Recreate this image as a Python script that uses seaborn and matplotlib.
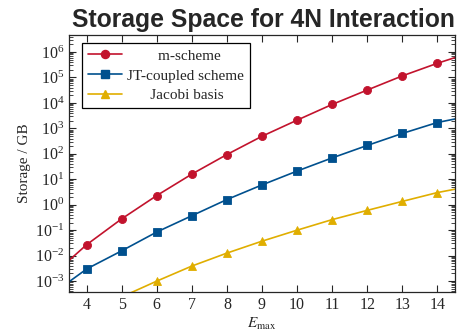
import numpy as np
import pandas as pd
import matplotlib
matplotlib.use("Agg")
import matplotlib.pyplot as plt
import matplotlib.ticker as mticker
import seaborn as sns

# Storage needed per basis (GB); 3 and 15 lie outside the view
emax = [3, 4, 5, 6, 7, 8, 9, 10, 11, 12, 13, 14, 15]
m_scheme = [1.6e-3, 0.027, 0.28, 2.3, 16, 94, 490, 2100, 8700, 32000, 115000, 360000, 1.0e6]
jt_coupled = [3e-4, 0.003, 0.0155, 0.085, 0.37, 1.6, 6.0, 21, 69, 213, 630, 1700, 3.2e3]
jacobi_e = [5, 6, 7, 8, 9, 10, 11, 12, 13, 14, 15]
jacobi = [2.4e-4, 0.001, 0.0039, 0.0126, 0.037, 0.1, 0.26, 0.6, 1.35, 3.0, 5.5]

names = ["m-scheme", "JT-coupled scheme", "Jacobi basis"]
colors = ["#c2132d", "#00508e", "#e0ae00"]
markers = ["o", "s", "^"]
ytick_exps = [-3, -2, -1, 0, 1, 2, 3, 4, 5, 6]

df = pd.concat([
    pd.DataFrame({"E": emax, "GB": m_scheme, "basis": names[0]}),
    pd.DataFrame({"E": emax, "GB": jt_coupled, "basis": names[1]}),
    pd.DataFrame({"E": jacobi_e, "GB": jacobi, "basis": names[2]}),
])

sns.set_style("ticks")
plt.rcParams["font.family"] = ["Liberation Serif", "DejaVu Serif"]
plt.rcParams["mathtext.fontset"] = "stix"

fig = plt.figure(figsize=(4.58, 3.33), dpi=100)
ax = fig.add_axes([0.151, 0.123, 0.842, 0.772])

sns.lineplot(data=df, x="E", y="GB", hue="basis", style="basis",
             palette=dict(zip(names, colors)), markers=dict(zip(names, markers)),
             dashes=False, linewidth=1.2, markersize=5.8, markeredgewidth=0.6,
             ax=ax, legend=False)
for ln, c in zip(ax.get_lines(), colors):
    ln.set_markeredgecolor(c)

ax.set_yscale("log")
ax.set_xlim(3.5, 14.5)
ax.set_ylim(10**-3.43, 10**6.67)
ax.xaxis.set_major_locator(mticker.MultipleLocator(1))
ax.yaxis.set_major_locator(mticker.FixedLocator([10.0**e for e in ytick_exps]))
ax.yaxis.set_major_formatter(mticker.LogFormatterSciNotation())
ax.yaxis.set_minor_locator(mticker.LogLocator(base=10, subs=np.arange(2, 10), numticks=20))
ax.yaxis.set_minor_formatter(mticker.NullFormatter())
ax.tick_params(which="both", direction="in", top=True, right=True, labelsize=11.5)
ax.tick_params(which="major", length=5, width=0.8)
ax.tick_params(which="minor", length=3, width=0.6)
for s in ax.spines.values():
    s.set_linewidth(0.9)

ax.set_xlabel(r"$E_{\mathrm{max}}$", fontsize=11, labelpad=2)
ax.set_ylabel("Storage / GB", fontsize=11, labelpad=3)
ax.set_title("Storage Space for 4N Interaction", fontsize=17.8, fontweight="bold",
             family="Liberation Sans", pad=6, loc="right")

# legend labels centred in their column with leading spaces
handles = [plt.Line2D([], [], color=c, marker=m, lw=1.2, ms=5.8, mec=c)
           for c, m in zip(colors, markers)]
labels = ["        m-scheme", "JT-coupled scheme", "      Jacobi basis"]
leg = ax.legend(handles, labels, loc="upper left", bbox_to_anchor=(0.034, 0.969),
                borderaxespad=0, fancybox=False, framealpha=1, edgecolor="black",
                fontsize=11, handlelength=2.2, handletextpad=0.3, labelspacing=0.4,
                borderpad=0.4)
leg.get_frame().set_linewidth(0.9)

fig.savefig("out.png", dpi=100)
